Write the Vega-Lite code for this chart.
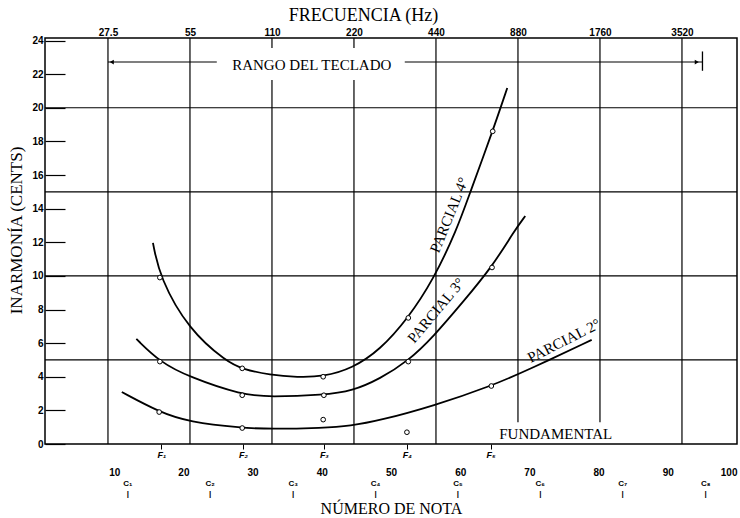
{
  "$schema": "https://vega.github.io/schema/vega-lite/v6.json",
  "width": 692,
  "height": 406,
  "autosize": {"type": "none"},
  "padding": {"left": 45, "top": 38, "right": 3, "bottom": 74},
  "background": "white",
  "config": {
    "view": {"stroke": "black", "strokeWidth": 1.5},
    "axis": {"labelColor": "black", "titleColor": "black", "tickColor": "black", "grid": false, "domain": false, "labelFlush": false, "labelOverlap": false}
  },
  "encoding": {
    "y": {
      "field": "cents", "type": "quantitative",
      "scale": {"domain": [0, 24.15], "nice": false, "zero": false},
      "axis": {
        "orient": "left",
        "values": [0, 2, 4, 6, 8, 10, 12, 14, 16, 18, 20, 22, 24],
        "tickSize": -20, "tickWidth": 1.2, "labelPadding": 22,
        "labelFont": "Liberation Sans", "labelFontWeight": "bold", "labelFontSize": 10,
        "title": "INARMONÍA (CENTS)", "titleFont": "Liberation Serif", "titleFontSize": 17, "titleFontWeight": "normal", "titlePadding": 6, "titleY": 192
      }
    }
  },
  "resolve": {"scale": {"x": "independent"}, "axis": {"x": "independent"}},
  "layer": [
    {
      "data": {"values": [{"cents": 5}, {"cents": 10}, {"cents": 15}, {"cents": 20}]},
      "mark": {"type": "rule", "color": "black", "strokeWidth": 1.2},
      "encoding": {}
    },
    {
      "encoding": {
        "x": {
          "field": "freq", "type": "quantitative",
          "scale": {"type": "log", "base": 2, "domain": [16.15, 5605], "nice": false},
          "axis": {
            "orient": "top",
            "values": [27.5, 55, 110, 220, 440, 880, 1760, 3520],
            "format": "~g", "ticks": false, "labelPadding": 1,
            "labelFont": "Liberation Sans", "labelFontWeight": "bold", "labelFontSize": 10,
            "title": "FRECUENCIA (Hz)", "titleFont": "Liberation Serif", "titleFontSize": 18, "titleFontWeight": "normal", "titlePadding": 3, "titleX": 318
          }
        }
      },
      "layer": [
        {
          "data": {"values": [
            {"freq": 27.5, "cents": 0, "cents2": 24.15},
            {"freq": 55, "cents": 0, "cents2": 24.15},
            {"freq": 110, "cents": 0, "cents2": 21.65},
            {"freq": 110, "cents": 23.56, "cents2": 24.15},
            {"freq": 220, "cents": 0, "cents2": 21.65},
            {"freq": 220, "cents": 23.56, "cents2": 24.15},
            {"freq": 440, "cents": 0, "cents2": 24.15},
            {"freq": 880, "cents": 1.3, "cents2": 24.15},
            {"freq": 1760, "cents": 1.3, "cents2": 24.15},
            {"freq": 3520, "cents": 0, "cents2": 24.15}
          ]},
          "mark": {"type": "rule", "color": "black", "strokeWidth": 1.2},
          "encoding": {"y2": {"field": "cents2"}}
        },
        {
          "data": {"values": [
            {"freq": 27.5, "freq2": 69, "cents": 22.72},
            {"freq": 338, "freq2": 4186, "cents": 22.72}
          ]},
          "mark": {"type": "rule", "color": "black", "strokeWidth": 1.1},
          "encoding": {"x2": {"field": "freq2"}}
        },
        {
          "data": {"values": [{"freq": 4186, "cents": 22.2, "cents2": 23.35}]},
          "mark": {"type": "rule", "color": "black", "strokeWidth": 1.3},
          "encoding": {"y2": {"field": "cents2"}}
        },
        {
          "data": {"values": [
            {"freq": 28.4, "cents": 22.72, "dir": "left"},
            {"freq": 3990, "cents": 22.72, "dir": "right"}
          ]},
          "mark": {"type": "point", "filled": true, "color": "black", "size": 22, "opacity": 1},
          "encoding": {
            "shape": {"field": "dir", "type": "nominal", "scale": {"domain": ["left", "right"], "range": ["triangle-left", "triangle-right"]}, "legend": null}
          }
        },
        {
          "data": {"values": [{"freq": 154, "cents": 22.55, "label": "RANGO DEL TECLADO"}]},
          "mark": {"type": "text", "font": "Liberation Serif", "fontSize": 15, "color": "black", "align": "center", "baseline": "middle"},
          "encoding": {"text": {"field": "label"}}
        }
      ]
    },
    {
      "encoding": {
        "x": {
          "field": "note", "type": "quantitative",
          "scale": {"domain": [0, 100], "nice": false, "zero": false},
          "axis": {
            "orient": "bottom",
            "values": [10, 20, 30, 40, 50, 60, 70, 80, 90, 100],
            "ticks": false, "labelPadding": 23, "labelFlush": true,
            "labelFont": "Liberation Sans", "labelFontWeight": "bold", "labelFontSize": 10,
            "title": null
          }
        }
      },
      "layer": [
        {
          "data": {"values": [
            {"series": "P4", "note": 15.6, "cents": 11.96},
            {"series": "P4", "note": 16.6, "cents": 9.88},
            {"series": "P4", "note": 20.8, "cents": 6.78},
            {"series": "P4", "note": 26.3, "cents": 4.88},
            {"series": "P4", "note": 28.5, "cents": 4.46},
            {"series": "P4", "note": 32.5, "cents": 4.1},
            {"series": "P4", "note": 36.5, "cents": 3.97},
            {"series": "P4", "note": 40.2, "cents": 4.0},
            {"series": "P4", "note": 44.4, "cents": 4.5},
            {"series": "P4", "note": 48.4, "cents": 5.59},
            {"series": "P4", "note": 52.5, "cents": 7.5},
            {"series": "P4", "note": 56.1, "cents": 9.76},
            {"series": "P4", "note": 59.5, "cents": 12.73},
            {"series": "P4", "note": 61.4, "cents": 14.93},
            {"series": "P4", "note": 64.7, "cents": 18.62},
            {"series": "P4", "note": 66.8, "cents": 21.18},
            {"series": "P3", "note": 13.2, "cents": 6.25},
            {"series": "P3", "note": 16.6, "cents": 4.88},
            {"series": "P3", "note": 20.8, "cents": 3.99},
            {"series": "P3", "note": 28.5, "cents": 2.91},
            {"series": "P3", "note": 32.5, "cents": 2.8},
            {"series": "P3", "note": 40.3, "cents": 2.91},
            {"series": "P3", "note": 44.4, "cents": 3.15},
            {"series": "P3", "note": 48.4, "cents": 3.88},
            {"series": "P3", "note": 52.5, "cents": 4.94},
            {"series": "P3", "note": 56.1, "cents": 6.37},
            {"series": "P3", "note": 60.4, "cents": 8.45},
            {"series": "P3", "note": 64.6, "cents": 10.53},
            {"series": "P3", "note": 67.9, "cents": 12.73},
            {"series": "P3", "note": 69.4, "cents": 13.56},
            {"series": "P2", "note": 11.1, "cents": 3.09},
            {"series": "P2", "note": 16.5, "cents": 1.9},
            {"series": "P2", "note": 20.8, "cents": 1.31},
            {"series": "P2", "note": 28.5, "cents": 0.95},
            {"series": "P2", "note": 32.5, "cents": 0.89},
            {"series": "P2", "note": 40.2, "cents": 0.95},
            {"series": "P2", "note": 44.1, "cents": 1.07},
            {"series": "P2", "note": 48.4, "cents": 1.4},
            {"series": "P2", "note": 56.1, "cents": 2.26},
            {"series": "P2", "note": 64.5, "cents": 3.45},
            {"series": "P2", "note": 70.1, "cents": 4.46},
            {"series": "P2", "note": 79.0, "cents": 6.19}
          ]},
          "mark": {"type": "line", "interpolate": "basis", "color": "black", "strokeWidth": 1.8},
          "encoding": {"detail": {"field": "series", "type": "nominal"}}
        },
        {
          "data": {"values": [{"note": 58.4, "cents": 13.62, "label": "PARCIAL 4°"}]},
          "mark": {"type": "text", "font": "Liberation Serif", "fontSize": 15, "color": "black", "angle": 292, "align": "center", "baseline": "middle"},
          "encoding": {"text": {"field": "label"}}
        },
        {
          "data": {"values": [{"note": 56.5, "cents": 7.95, "label": "PARCIAL 3°"}]},
          "mark": {"type": "text", "font": "Liberation Serif", "fontSize": 15, "color": "black", "angle": 310, "align": "center", "baseline": "middle"},
          "encoding": {"text": {"field": "label"}}
        },
        {
          "data": {"values": [{"note": 75.0, "cents": 6.15, "label": "PARCIAL 2°"}]},
          "mark": {"type": "text", "font": "Liberation Serif", "fontSize": 15, "color": "black", "angle": 333, "align": "center", "baseline": "middle"},
          "encoding": {"text": {"field": "label"}}
        }
      ]
    },
    {
      "data": {"values": [
        {"series": "P4", "note": 16.6, "cents": 9.9},
        {"series": "P4", "note": 28.5, "cents": 4.5},
        {"series": "P4", "note": 40.2, "cents": 4.0},
        {"series": "P4", "note": 52.5, "cents": 7.5},
        {"series": "P4", "note": 64.7, "cents": 18.6},
        {"series": "P3", "note": 16.6, "cents": 4.9},
        {"series": "P3", "note": 28.5, "cents": 2.9},
        {"series": "P3", "note": 40.3, "cents": 2.9},
        {"series": "P3", "note": 52.5, "cents": 4.9},
        {"series": "P3", "note": 64.6, "cents": 10.5},
        {"series": "P2", "note": 16.5, "cents": 1.9},
        {"series": "P2", "note": 28.5, "cents": 0.95},
        {"series": "P2", "note": 40.2, "cents": 1.45},
        {"series": "P2", "note": 52.3, "cents": 0.7},
        {"series": "P2", "note": 64.5, "cents": 3.45}
      ]},
      "mark": {"type": "point", "shape": "circle", "filled": true, "fill": "white", "stroke": "black", "strokeWidth": 1, "size": 22, "opacity": 1},
      "encoding": {
        "x": {
          "field": "note", "type": "quantitative",
          "scale": {"domain": [0, 100], "nice": false, "zero": false},
          "axis": {
            "orient": "bottom",
            "values": [16.8, 28.6, 40.3, 52.3, 64.4],
            "labelExpr": "datum.value < 20 ? 'F₁' : datum.value < 30 ? 'F₂' : datum.value < 45 ? 'F₃' : datum.value < 60 ? 'F₄' : 'F₅'",
            "ticks": true, "tickSize": 5, "tickWidth": 1, "labelPadding": 1,
            "labelFont": "Liberation Sans", "labelFontWeight": "bold", "labelFontStyle": "italic", "labelFontSize": 9,
            "title": null
          }
        }
      }
    },
    {
      "data": {"values": [{"note": 73.8, "cents": 0.6, "label": "FUNDAMENTAL"}]},
      "mark": {"type": "text", "font": "Liberation Serif", "fontSize": 15, "color": "black", "align": "center", "baseline": "middle"},
      "encoding": {
        "text": {"field": "label"},
        "x": {
          "field": "note", "type": "quantitative",
          "scale": {"domain": [0, 100], "nice": false, "zero": false},
          "axis": {
            "orient": "bottom",
            "values": [11.9, 23.8, 35.8, 47.7, 59.6, 71.5, 83.4, 95.4],
            "labelExpr": "[datum.value < 15 ? 'C₁' : datum.value < 30 ? 'C₂' : datum.value < 40 ? 'C₃' : datum.value < 50 ? 'C₄' : datum.value < 65 ? 'C₅' : datum.value < 75 ? 'C₆' : datum.value < 90 ? 'C₇' : 'C₈', '|']",
            "ticks": false, "labelPadding": 35, "labelLineHeight": 10,
            "labelFont": "Liberation Sans", "labelFontWeight": "bold", "labelFontSize": 8,
            "title": "NÚMERO DE NOTA", "titleFont": "Liberation Serif", "titleFontSize": 16, "titleFontWeight": "normal", "titlePadding": 3
          }
        }
      }
    }
  ]
}
